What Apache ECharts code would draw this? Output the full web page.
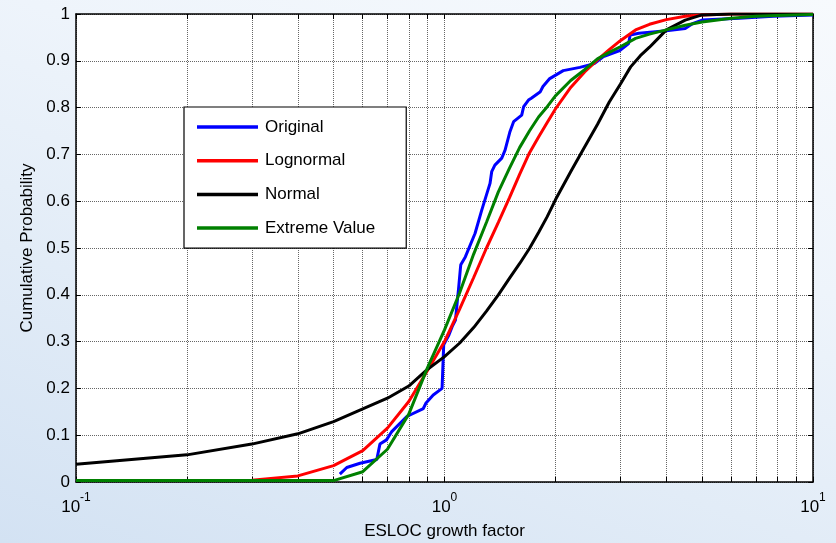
<!DOCTYPE html>
<html>
<head>
<meta charset="utf-8">
<script src="https://cdn.jsdelivr.net/npm/echarts@6/dist/echarts.min.js"></script>
<style>
html,body{margin:0;padding:0;width:836px;height:543px;overflow:hidden;}
body{background:linear-gradient(20deg,#d3e2f3 0%,#e2ecf7 35%,#eef4fb 65%,#f7fafd 100%);}
#c{width:836px;height:543px;}
</style>
</head>
<body>
<div id="c"></div>
<script>
// ---- data ----
const seriesNames = ['Original', 'Lognormal', 'Normal', 'Extreme Value'];

const originalX = [0.52,0.543,0.59,0.655,0.668,0.696,0.718,0.79,0.876,0.891,0.932,0.985,0.995,1.028,1.049,1.071,1.082,1.093,1.104,1.107,1.139,1.21,1.262,1.329,1.343,1.37,1.43,1.46,1.506,1.54,1.62,1.64,1.69,1.72,1.82,1.85,1.93,2.10,2.33,2.55,2.70,2.99,3.16,3.19,3.37,4.0,4.5,4.73,5.0,6.3,7.8,10];
const originalY = [0.017,0.031,0.040,0.048,0.081,0.090,0.107,0.140,0.157,0.169,0.186,0.200,0.293,0.314,0.332,0.346,0.382,0.417,0.455,0.464,0.481,0.531,0.581,0.638,0.663,0.677,0.692,0.709,0.749,0.770,0.784,0.802,0.816,0.820,0.834,0.845,0.862,0.879,0.886,0.894,0.909,0.922,0.937,0.955,0.959,0.964,0.969,0.980,0.987,0.991,0.995,0.998];

const lognormalX = [0.1,0.2,0.3,0.4,0.5,0.6,0.7,0.8,0.9,1.0,1.1,1.2,1.3,1.4,1.5,1.6,1.7,1.8,1.9,2.0,2.2,2.4,2.6,2.8,3.0,3.3,3.6,4.0,4.5,5.0,6.0,10];
const lognormalY = [0.003,0.003,0.004,0.013,0.035,0.067,0.115,0.172,0.239,0.300,0.370,0.437,0.500,0.555,0.607,0.658,0.703,0.737,0.768,0.797,0.843,0.876,0.902,0.924,0.943,0.966,0.978,0.988,0.995,0.998,1.0,1.0];

const normalX = [0.1,0.2,0.3,0.4,0.5,0.6,0.7,0.8,0.9,1.0,1.1,1.2,1.3,1.4,1.5,1.6,1.7,1.8,1.9,2.0,2.2,2.4,2.6,2.8,3.0,3.2,3.4,3.6,3.8,4.0,4.5,5.0,6.0,10];
const normalY = [0.038,0.058,0.081,0.103,0.129,0.156,0.179,0.205,0.241,0.268,0.297,0.330,0.365,0.400,0.435,0.467,0.499,0.533,0.567,0.603,0.663,0.716,0.764,0.812,0.850,0.887,0.911,0.929,0.948,0.966,0.987,0.998,1.0,1.0];

const extremeX = [0.1,0.2,0.3,0.4,0.5,0.6,0.7,0.8,0.9,1.0,1.1,1.2,1.3,1.4,1.5,1.6,1.7,1.8,1.9,2.0,2.2,2.4,2.6,2.8,3.0,3.3,3.6,4.0,4.5,5.0,6.0,7.0,8.0,10];
const extremeY = [0.003,0.003,0.003,0.003,0.003,0.022,0.070,0.145,0.245,0.325,0.405,0.487,0.555,0.620,0.670,0.715,0.750,0.780,0.802,0.825,0.858,0.881,0.904,0.918,0.930,0.948,0.957,0.966,0.976,0.983,0.991,0.995,0.997,0.999];

const xTickValues = [0.1,0.2,0.3,0.4,0.5,0.6,0.7,0.8,0.9,1,2,3,4,5,6,7,8,9,10];
const xLabelValues = [0.1,1,10];
const xLabelExponents = {'0.1':'-1','1':'0','10':'1'};

const colors = ['#0000ff','#ff0000','#000000','#008000'];

function zip(xs, ys){ return xs.map((x,i)=>[x, ys[i]]); }

const FONT = '"Liberation Sans", Arial, sans-serif';
const gridLine = {show:true, lineStyle:{color:'#666666', type:[1,1], width:1}};

const chart = echarts.init(document.getElementById('c'), null, {renderer:'canvas'});
const seriesData = [zip(originalX, originalY), zip(lognormalX, lognormalY), zip(normalX, normalY), zip(extremeX, extremeY)];

chart.setOption({
  backgroundColor: 'transparent',
  animation: false,
  textStyle: {fontFamily: FONT},
  grid: {left:76, right:23, top:14, bottom:61, show:true, backgroundColor:'#ffffff', borderWidth:0,
         containLabel:false, outerBoundsMode:'none'},
  legend: {
    data: seriesNames.map(n => ({name: n, icon: 'rect'})),
    orient: 'vertical',
    left: 184, top: 107,
    padding: [10, 31, 10, 13],
    itemWidth: 61, itemHeight: 3.5, itemGap: 13.7,
    backgroundColor: '#ffffff', borderColor: '#000000', borderWidth: 1.2, borderRadius: 0,
    textStyle: {fontSize: 17, lineHeight: 20, color: '#000', fontFamily: FONT, padding:[0,0,0,2]}
  },
  xAxis: [{
    type: 'log', logBase: 10, min: 0.1, max: 10,
    name: 'ESLOC growth factor', nameLocation: 'middle', nameGap: 41,
    nameTextStyle: {fontSize: 17, color: '#000', fontFamily: FONT},
    axisLine: {show:true, onZero:false, lineStyle:{color:'#000', width:1.5}},
    axisTick: {show:true, inside:true, length:5, lineStyle:{color:'#000'}, customValues: xTickValues},
    axisLabel: {
      customValues: xLabelValues, margin: 10,
      formatter: v => '{b|10}{s|' + (xLabelExponents[String(+v.toPrecision(3))] || '') + '}',
      rich: {
        b: {fontSize:17, color:'#000', fontFamily:FONT, lineHeight:30},
        s: {fontSize:12, color:'#000', fontFamily:FONT, verticalAlign:'top', lineHeight:12}
      }
    },
    splitLine: gridLine
  },{
    type: 'log', logBase: 10, min: 0.1, max: 10, position: 'top',
    axisLine: {show:true, onZero:false, lineStyle:{color:'#000', width:1.5}},
    axisTick: {show:true, inside:true, length:5, lineStyle:{color:'#000'}, customValues: xTickValues},
    axisLabel: {show:false}, splitLine: {show:false}
  }],
  yAxis: [{
    type: 'value', min: 0, max: 1, interval: 0.1,
    name: 'Cumulative Probability', nameLocation: 'middle', nameGap: 40,
    nameTextStyle: {fontSize: 17, color: '#000', fontFamily: FONT},
    axisLine: {show:true, onZero:false, lineStyle:{color:'#000', width:1.5}},
    axisTick: {show:true, inside:true, length:5, lineStyle:{color:'#000'}},
    axisLabel: {fontSize:17, color:'#000', fontFamily:FONT, margin:6},
    splitLine: gridLine
  },{
    type: 'value', min: 0, max: 1, interval: 0.1, position: 'right',
    axisLine: {show:true, onZero:false, lineStyle:{color:'#000', width:1.5}},
    axisTick: {show:true, inside:true, length:5, lineStyle:{color:'#000'}},
    axisLabel: {show:false}, splitLine: {show:false}
  }],
  series: seriesNames.map((n, i) => ({
    name: n, type: 'line', xAxisIndex: 0, yAxisIndex: 0,
    data: seriesData[i], symbol: 'none', smooth: false,
    lineStyle: {color: colors[i], width: 3}, itemStyle: {color: colors[i]}
  }))
});
</script>
</body>
</html>
